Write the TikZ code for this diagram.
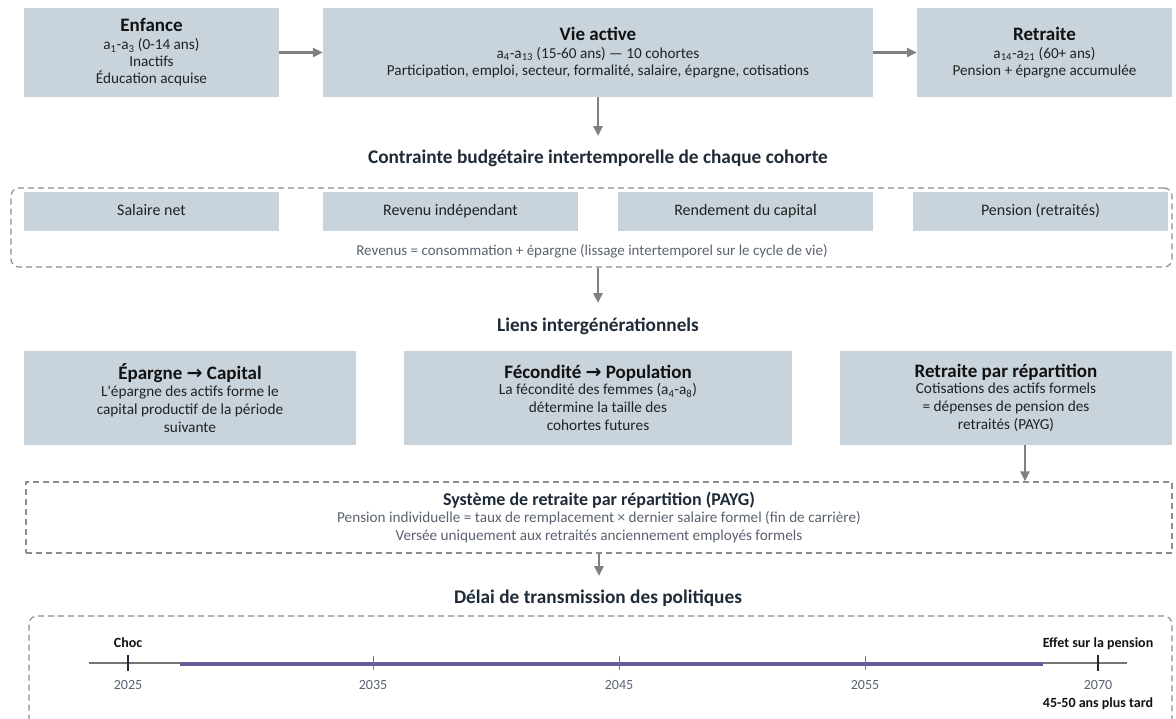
\documentclass[tikz,border=0pt]{standalone}
\usepackage{fontspec}
\setmainfont{Carlito}
\newfontfamily\symfont{DejaVu Sans}
\usetikzlibrary{arrows.meta}
\definecolor{boxfill}{HTML}{C8D3DC}
\definecolor{arrowgray}{HTML}{808080}
\definecolor{dashgray}{HTML}{8C8C8C}
\definecolor{headtxt}{HTML}{1F2A37}
\definecolor{titletxt}{HTML}{111111}
\definecolor{bodytxt}{HTML}{222222}
\definecolor{greytxt}{HTML}{5A6270}
\definecolor{purpleline}{HTML}{6A5A9A}
\definecolor{axisgray}{HTML}{777777}
\newcommand{\ttl}{\fontsize{19}{19}\selectfont\bfseries\color{titletxt}}
\newcommand{\arr}{{\symfont\bfseries →}}
\tikzset{
  box/.style={fill=boxfill, draw=none, inner sep=0pt, align=center, text=bodytxt},
  topbox/.style={box, minimum height=89pt, font=\fontsize{15.2}{17}\selectfont},
  subbox/.style={box, minimum width=255pt, minimum height=39pt, font=\fontsize{16}{19}\selectfont,
                 text height=11.5pt, text depth=3.5pt},
  linkbox/.style={box, minimum height=94pt, font=\fontsize{15.3}{18}\selectfont},
  conn/.style={draw=arrowgray, line width=2.5pt, -{Triangle[length=10pt,width=9pt]}},
  dashbox/.style={draw=dashgray, line width=1.2pt, dash pattern=on 6pt off 4pt, inner sep=0pt},
  heading/.style={font=\fontsize{19.3}{22}\selectfont\bfseries, text=headtxt, anchor=base, inner sep=0pt},
  greynote/.style={font=\fontsize{15}{18}\selectfont, text=greytxt, anchor=base, inner sep=0pt},
  axisline/.style={draw=axisgray, line width=1.3pt},
  darktick/.style={draw=headtxt, line width=2pt},
  greytick/.style={draw=axisgray, line width=1pt},
  yearlbl/.style={font=\fontsize{14}{16}\selectfont, text=greytxt, anchor=base, inner sep=0pt},
  boldlbl/.style={font=\fontsize{14}{16}\selectfont\bfseries, text=titletxt, anchor=base, inner sep=0pt}
}
\begin{document}
\begin{tikzpicture}[x=1pt,y=-1pt]
\useasboundingbox (0,0) rectangle (1176,718);

% ---- top row: life cycle ----
\node[topbox, minimum width=255pt] (enf) at (151.5,52.5)
  {{\ttl Enfance}\\[1pt] a\textsubscript{1}-a\textsubscript{3} (0-14 ans)\\ Inactifs\\ Éducation acquise};
\node[topbox, minimum width=550pt] (vie) at (598,52.5)
  {{\ttl Vie active}\\[1pt] a\textsubscript{4}-a\textsubscript{13} (15-60 ans) — 10 cohortes\\ Participation, emploi, secteur, formalité, salaire, épargne, cotisations};
\node[topbox, minimum width=255pt] (ret) at (1044.5,52.5)
  {{\ttl Retraite}\\[1pt] a\textsubscript{14}-a\textsubscript{21} (60+ ans)\\ Pension + épargne accumulée};
\draw[conn] (enf.east) -- (vie.west);
\draw[conn] (vie.east) -- (ret.west);

\coordinate (t1) at (598,136);
\draw[conn] (vie.south) -- (t1);

% ---- budget constraint ----
\node[heading] (h1) at (598,163) {Contrainte budgétaire intertemporelle de chaque cohorte};
\node[dashbox, rounded corners=8pt, minimum width=1161pt, minimum height=79pt] (budget) at (591.5,227.5) {};
\node[subbox] (sal) at (151.5,211.5) {Salaire net};
\node[subbox] (rin) at (450.5,211.5) {Revenu indépendant};
\node[subbox] (rdc) at (745.5,211.5) {Rendement du capital};
\node[subbox] (pen) at (1040.5,211.5) {Pension (retraités)};
\node[greynote] (revnote) at (592,255.5) {Revenus = consommation + épargne (lissage intertemporel sur le cycle de vie)};

\coordinate (t2) at (598,303);
\draw[conn] (vie.south |- budget.south) -- (t2);

% ---- intergenerational links ----
\node[heading] (h2) at (598,331) {Liens intergénérationnels};
\node[linkbox, minimum width=332pt] (epc) at (190,398)
  {{\ttl Épargne \arr{} Capital}\\[-1.5pt] L\textquotesingle épargne des actifs forme le\\ capital productif de la période\\ suivante};
\node[linkbox, minimum width=388pt] (fec) at (598,398)
  {{\ttl Fécondité \arr{} Population}\\[-1.5pt] La fécondité des femmes (a\textsubscript{4}-a\textsubscript{8})\\ détermine la taille des\\ cohortes futures};
\node[linkbox, minimum width=332pt] (rpr) at (1006,398)
  {{\ttl Retraite par répartition}\\[-1.5pt] Cotisations des actifs formels\\ = dépenses de pension des\\ retraités (PAYG)};

% ---- PAYG system ----
\node[dashbox, minimum width=1146pt, minimum height=71pt, align=center, text=greytxt,
      font=\fontsize{15.2}{18}\selectfont] (payg) at (599,517.5)
  {{\fontsize{18}{18}\selectfont\bfseries\color{headtxt} Système de retraite par répartition (PAYG)}\\[-0.5pt]
   Pension individuelle = taux de remplacement × dernier salaire formel (fin de carrière)\\
   Versée uniquement aux retraités anciennement employés formels};
\draw[conn] ([xshift=19pt]rpr.south) -- ([xshift=19pt]rpr.south |- payg.north);

\coordinate (t4) at (599,576);
\draw[conn] (payg.south) -- (t4);

% ---- transmission delay ----
\node[heading] (h3) at (598,603) {Délai de transmission des politiques};
\node[dashbox, rounded corners=8pt, minimum width=1143pt, minimum height=124pt] (tl) at (600.5,678) {};

\coordinate (ax0) at (89,663);
\coordinate (ax1) at (1127,663);
\draw[axisline] (ax0) -- (ax1);
\coordinate (p0) at (180,663.5);
\coordinate (p1) at (1043,663.5);
\draw[draw=purpleline, line width=4pt] (p0) -- (p1);

\draw[darktick] (128,655) -- (128,671);
\draw[greytick] (373,656) -- (373,670);
\draw[greytick] (619,656) -- (619,670);
\draw[greytick] (865,656) -- (865,670);
\draw[darktick] (1098,655) -- (1098,671);

\node[boldlbl] (choc) at (128,647) {Choc};
\node[boldlbl] (effet) at (1098,647) {Effet sur la pension};
\node[yearlbl] (y2025) at (128,689) {2025};
\node[yearlbl] (y2035) at (373,689) {2035};
\node[yearlbl] (y2045) at (619,689) {2045};
\node[yearlbl] (y2055) at (865,689) {2055};
\node[yearlbl] (y2070) at (1098,689) {2070};
\node[boldlbl] (tard) at (1098,707) {45-50 ans plus tard};
\end{tikzpicture}
\end{document}
